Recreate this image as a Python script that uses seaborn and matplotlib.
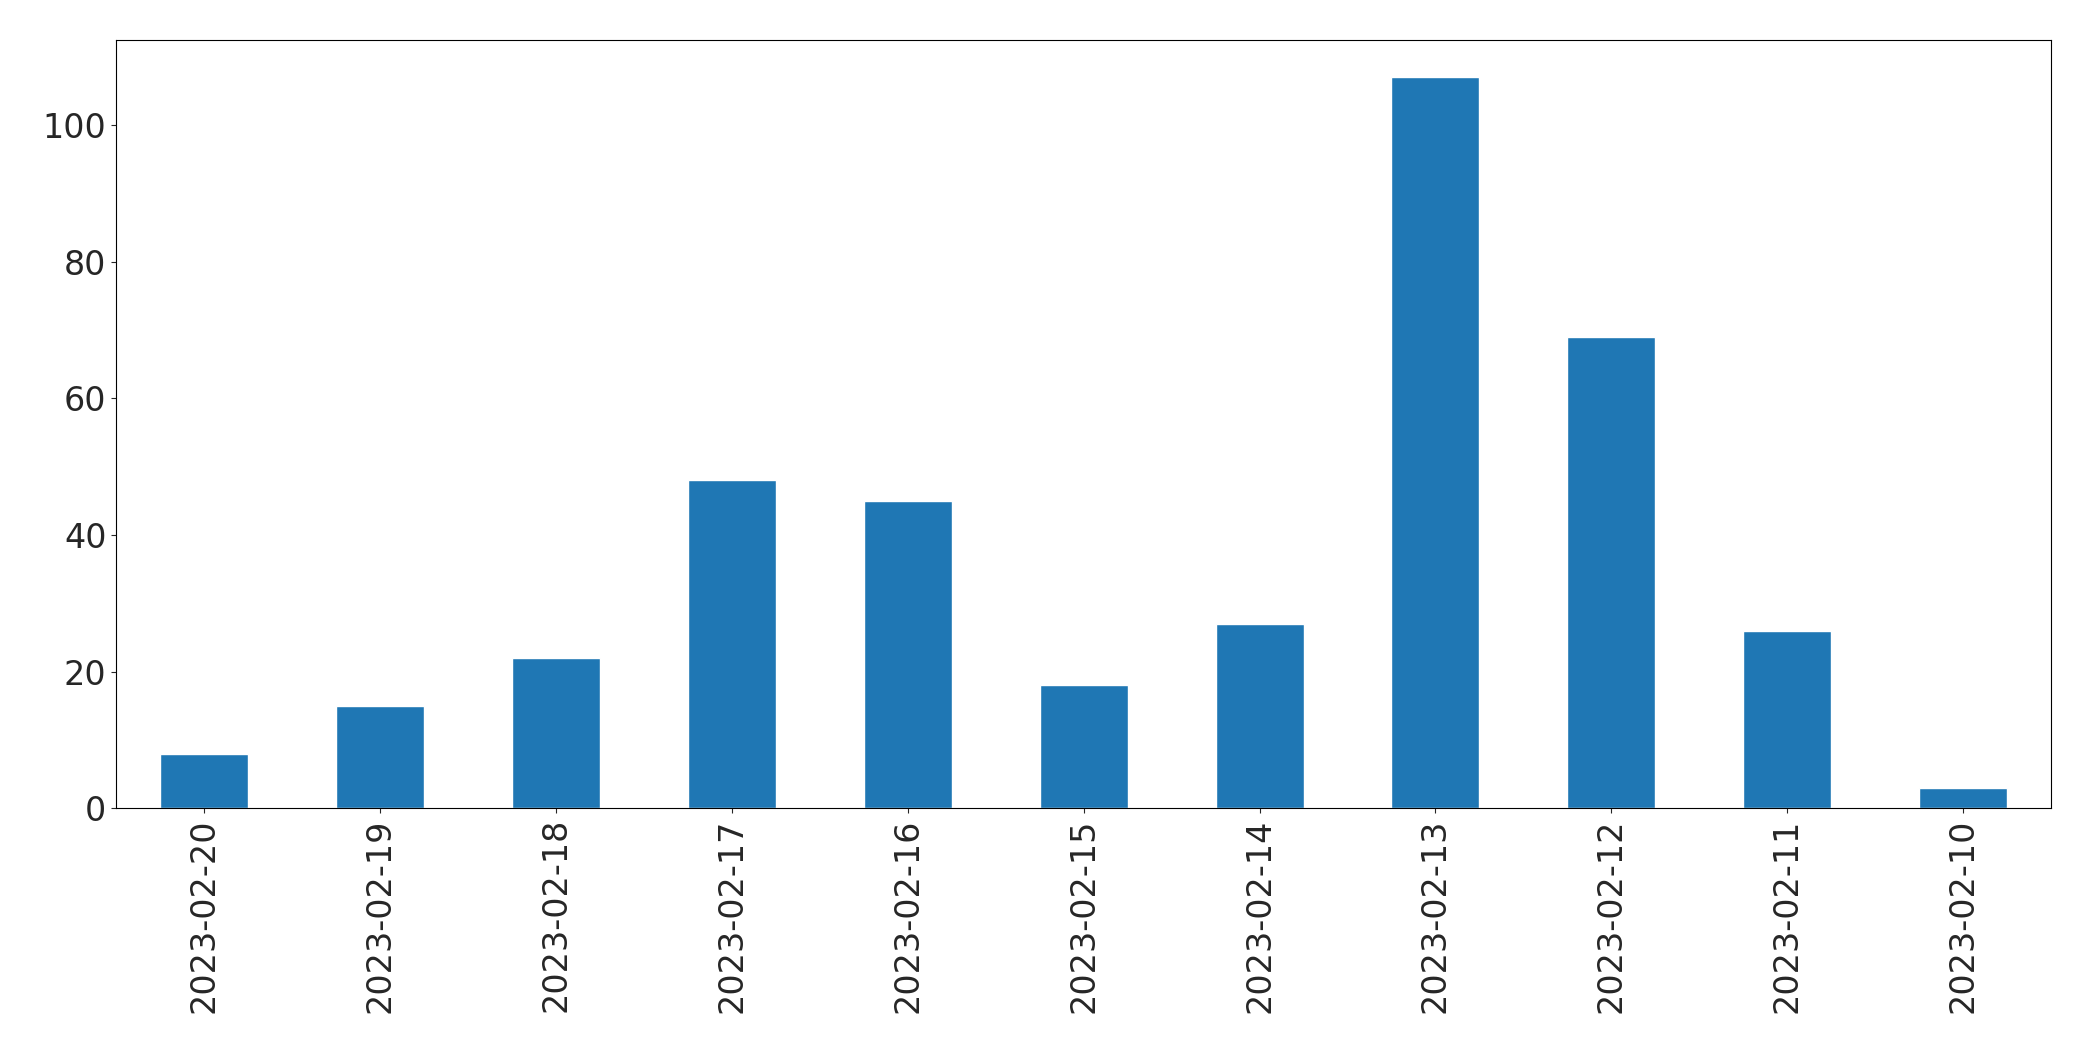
import matplotlib
matplotlib.use("Agg")
import matplotlib.pyplot as plt
import seaborn as sns
import pandas as pd

dates = ["2023-02-20","2023-02-19","2023-02-18","2023-02-17","2023-02-16","2023-02-15",
         "2023-02-14","2023-02-13","2023-02-12","2023-02-11","2023-02-10"]
counts = [8, 15, 22, 48, 45, 18, 27, 107, 69, 26, 3]

sns.set_style("ticks")
plt.rcParams['font.family'] = ['DejaVu Sans']
df = pd.DataFrame({"date": dates, "count": counts})
fig = plt.figure(figsize=(20.93, 10.61), dpi=100)
ax = fig.add_axes([0.0555, 0.238, 0.9245, 0.724])
sns.barplot(data=df, x="date", y="count", color="#1f77b4", saturation=1, width=0.5, ax=ax)
ax.set_xlim(-0.5, len(dates) - 0.5)
ax.set_ylim(0, 112.35)
ax.set_xlabel("")
ax.set_ylabel("")
ax.tick_params(axis='x', labelrotation=90, labelsize=24)
ax.tick_params(axis='y', labelsize=24)
for s in ax.spines.values():
    s.set_visible(True)
    s.set_color("black")
    s.set_linewidth(0.8)
fig.savefig("out.png", dpi=100)
